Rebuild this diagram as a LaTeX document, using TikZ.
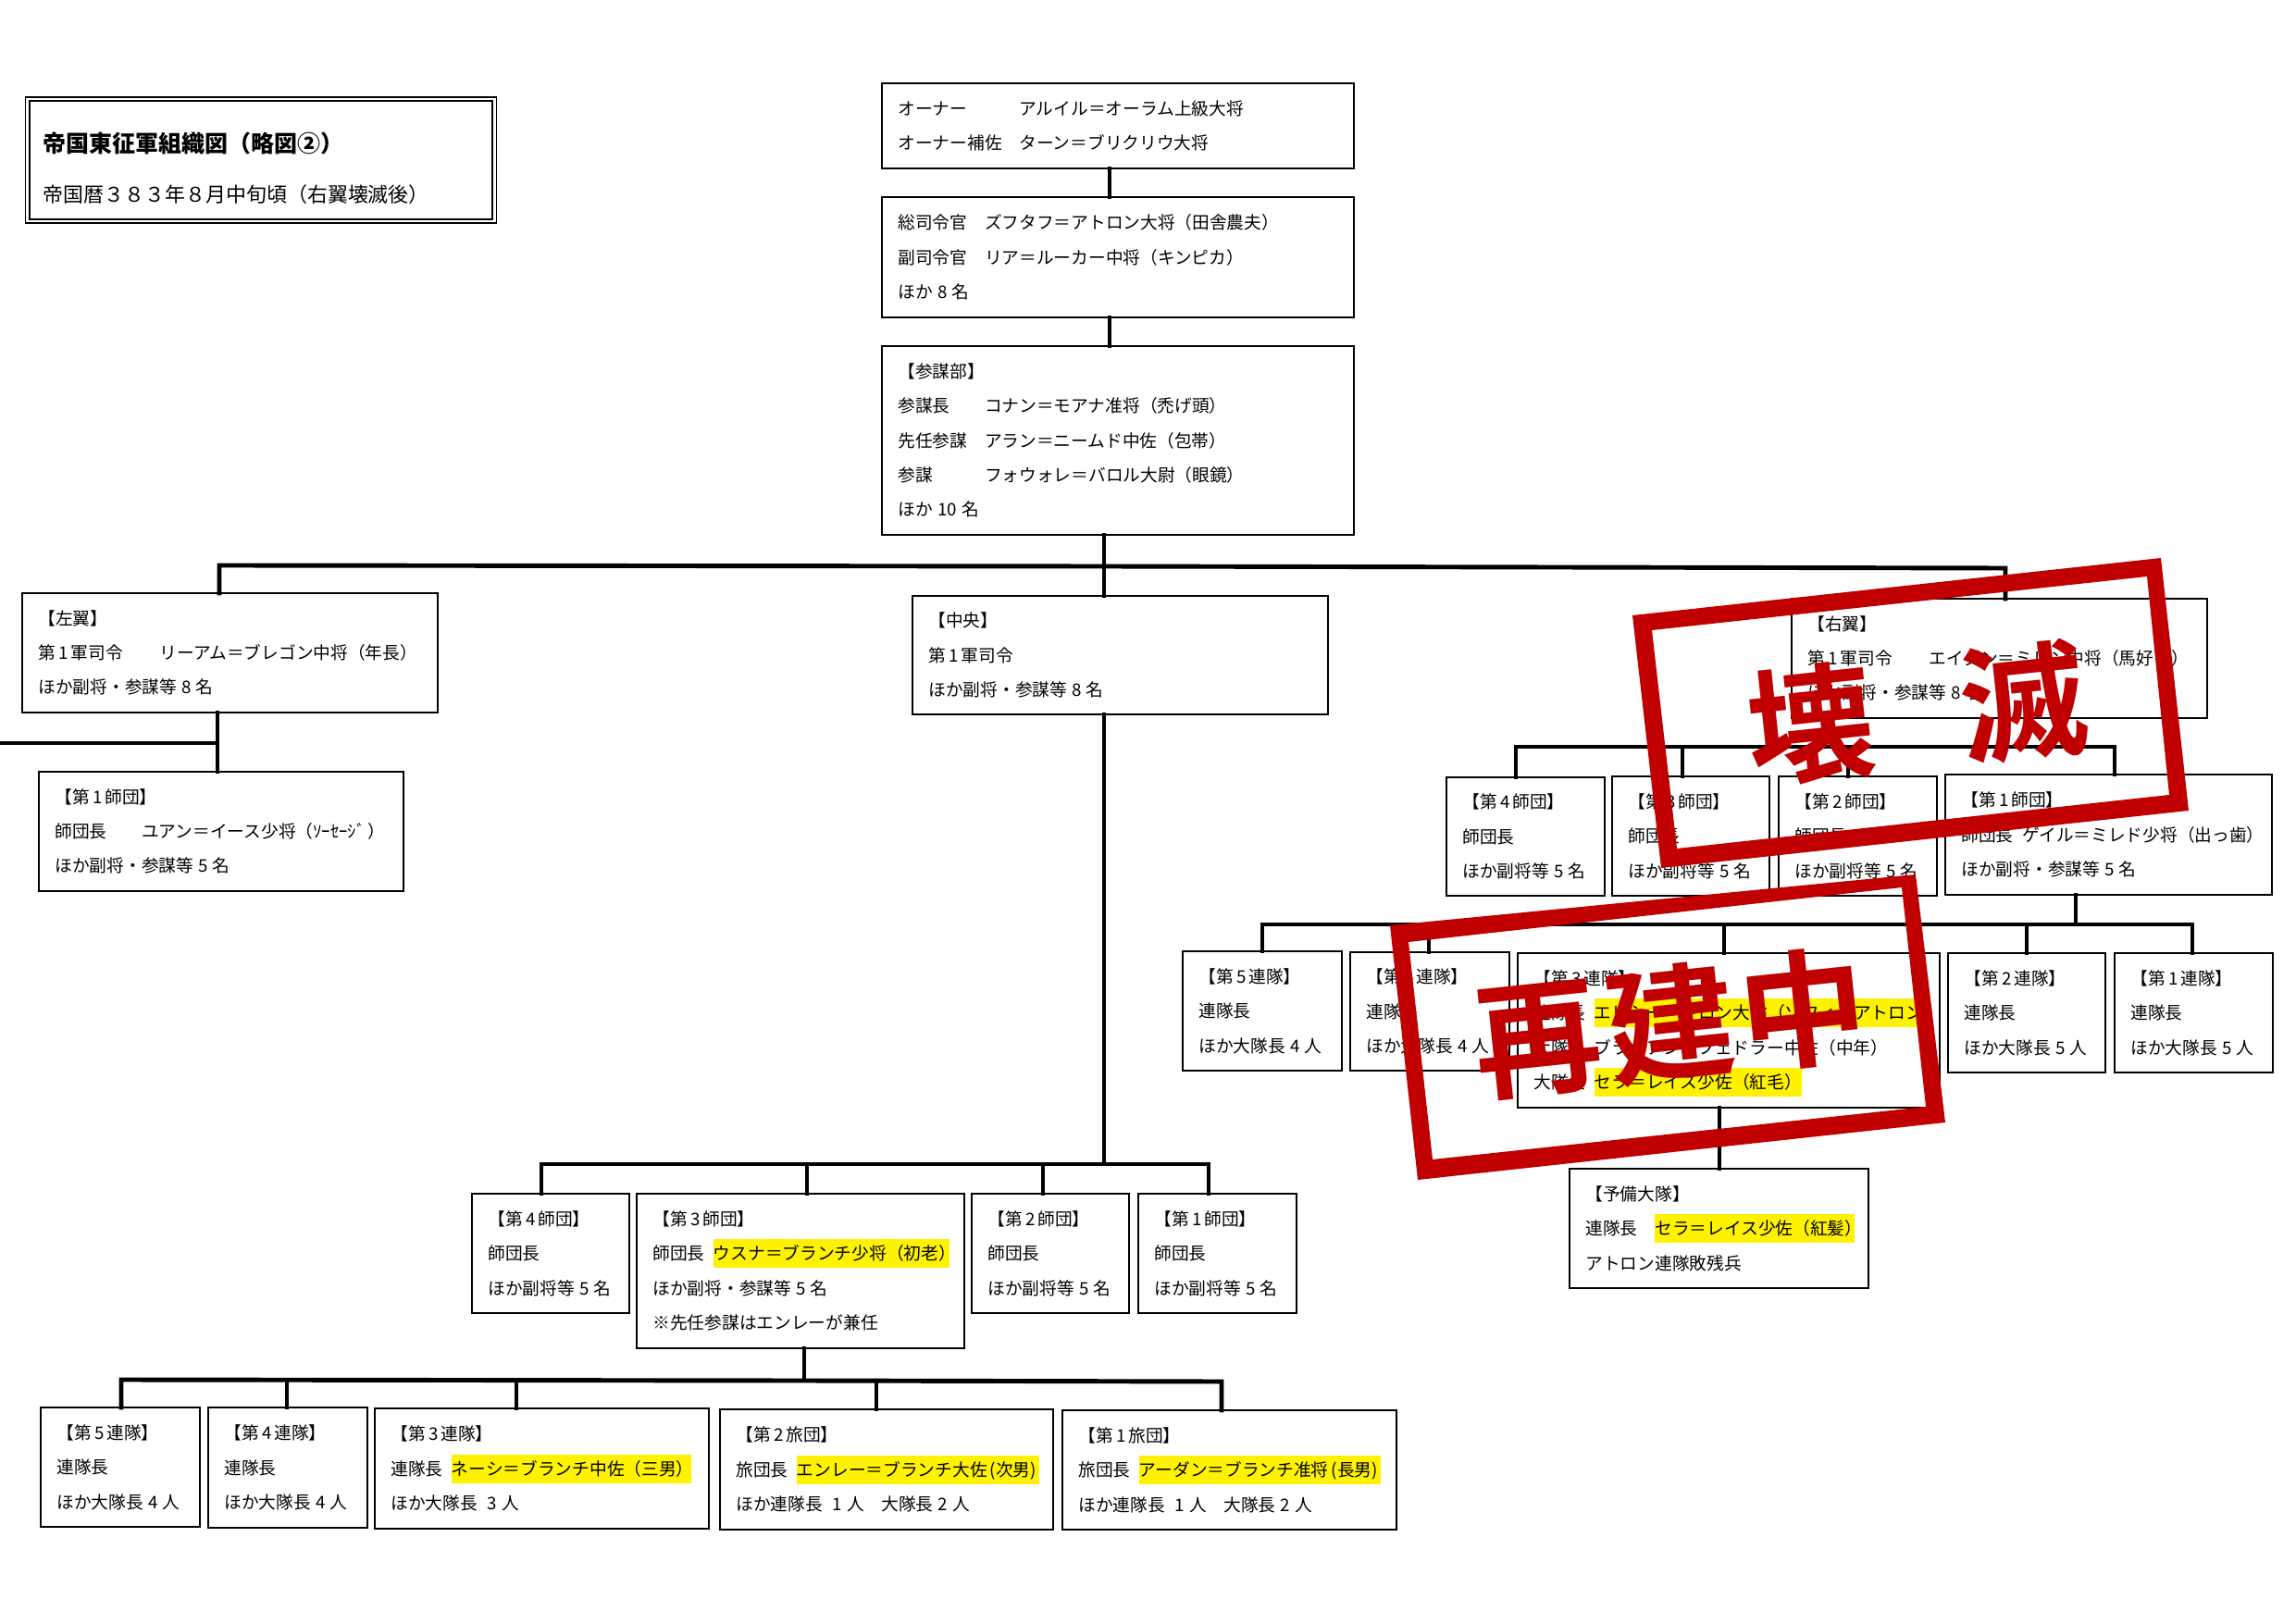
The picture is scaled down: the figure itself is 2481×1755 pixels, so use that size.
\documentclass[tikz,border=0pt]{standalone}
\usepackage{fontspec}
\setmainfont{Noto Sans CJK JP}
\newfontfamily\stampfont{Noto Sans CJK JP Bold}
\definecolor{stampred}{HTML}{C00000}
\setlength{\fboxsep}{0pt}
\def\pxsz{0.01cm}
\providecommand{\orgLineWidth}{0.62pt}
\providecommand{\orgLinkWidth}{1.4pt}
\newcommand{\lab}[2]{\makebox[#1em][l]{#2}}
\newcommand{\hlname}[1]{\smash{\colorbox{yellow}{\rule[-2.4pt]{0pt}{8.8pt}#1}}}
\newcommand{\orgnode}[6]{\node[orgbox, minimum width={(#4-#2)*\pxsz}, minimum height={(#5-#3)*\pxsz}, text width={(#4-#2-35)*\pxsz}] (#1) at ({(#2+#4)/2},{(#3+#5)/2}) {#6};}
\tikzset{
  orgbox/.style={draw=black, line width=\orgLineWidth, inner xsep=0.175cm, inner ysep=0pt, outer sep=0pt, align=left, font=\fontsize{5.32}{10.63}\selectfont},
  titlebox/.style={draw=black, line width=0.5pt, double, double distance=0.8pt, inner xsep=0pt, inner ysep=0pt, outer sep=0pt, align=left},
  link/.style={draw=black, line width=\orgLinkWidth, line cap=rect},
  stampframe/.style={fill=stampred, even odd rule},
  stamptext/.style={text=stampred, rotate=6, inner sep=0pt, font=\stampfont\fontsize{39}{39}\selectfont}
}
\begin{document}
\begin{tikzpicture}[x=\pxsz, y=-\pxsz]
\useasboundingbox (0,0) rectangle (2481,1755);
% Title
\node[titlebox, minimum width=5.04cm, minimum height=1.32cm, text width=4.7cm] (mapTitle) at (282,173)
  {\rule{0pt}{11.2pt}{\fontsize{7.1}{8}\selectfont\bfseries 帝国東征軍組織図（略図②）}\\[3.3pt]
   {\fontsize{6.24}{8}\selectfont 帝国暦３８３年８月中旬頃（右翼壊滅後）}};
% Headquarters
\orgnode{owner}{953}{90}{1463}{182}{\lab{7}{オーナー}アルイル＝オーラム上級大将\\\lab{7}{オーナー補佐}ターン＝ブリクリウ大将}
\orgnode{command}{953}{213}{1463}{343}{\lab{5}{総司令官}ズフタフ＝アトロン大将（田舎農夫）\\\lab{5}{副司令官}リア＝ルーカー中将（キンピカ）\\ほか\;8\;名}
\orgnode{staff}{953}{374}{1463}{578}{【参謀部】\\\lab{5}{参謀長}コナン＝モアナ准将（禿げ頭）\\\lab{5}{先任参謀}アラン＝ニームド中佐（包帯）\\\lab{5}{参謀}フォウォレ＝バロル大尉（眼鏡）\\ほか\;10\;名}
% Wings
\orgnode{leftWing}{24}{641}{473}{770}{【左翼】\\\lab{7}{第\,1\,軍司令}リーアム＝ブレゴン中将（年長）\\ほか副将・参謀等\;8\;名}
\orgnode{centerWing}{986}{644}{1435}{772}{【中央】\\第\,1\,軍司令\\ほか副将・参謀等\;8\;名}
\orgnode{rightWing}{1936}{647}{2385}{776}{【右翼】\\\lab{7}{第\,1\,軍司令}エイグン＝ミレン中将（馬好き）\\ほか副将・参謀等\;8\;名}
% Left wing divisions
\orgnode{leftDivA}{42}{834}{436}{963}{【第\,1\,師団】\\\lab{5}{師団長}ユアン＝イース少将（ｿｰｾｰｼﾞ\,）\\ほか副将・参謀等\;5\;名}
% Right wing divisions
\orgnode{rightDivD}{1563}{840}{1734}{968}{【第\,4\,師団】\\師団長\\ほか副将等\;5\;名}
\orgnode{rightDivC}{1742}{839}{1912}{968}{【第\,3\,師団】\\師団長\\ほか副将等\;5\;名}
\orgnode{rightDivB}{1922}{839}{2093}{968}{【第\,2\,師団】\\師団長\\ほか副将等\;5\;名}
\orgnode{rightDivA}{2102}{837}{2455}{967}{【第\,1\,師団】\\\lab{3.5}{師団長}ゲイル＝ミレド少将（出っ歯）\\ほか副将・参謀等\;5\;名}
% Right wing regiments
\orgnode{rightRegE}{1278}{1028}{1450}{1157}{【第\,5\,連隊】\\連隊長\\ほか大隊長\;4\;人}
\orgnode{rightRegD}{1459}{1029}{1631}{1157}{【第\,4\,連隊】\\連隊長\\ほか大隊長\;4\;人}
\orgnode{rightRegC}{1640}{1030}{2096}{1197}{【第\,3\,連隊】\\\lab{3.5}{連隊長}\hlname{エリシー＝トロン大佐（ソフィ・アトロン}\\\lab{3.5}{大隊長}ブライアン＝フェドラー中佐（中年）\\\lab{3.5}{大隊長}\hlname{セラ＝レイス少佐（紅毛）}}
\orgnode{rightRegB}{2105}{1030}{2275}{1159}{【第\,2\,連隊】\\連隊長\\ほか大隊長\;5\;人}
\orgnode{rightRegA}{2285}{1030}{2456}{1159}{【第\,1\,連隊】\\連隊長\\ほか大隊長\;5\;人}
\orgnode{reserve}{1696}{1263}{2019}{1392}{【予備大隊】\\\lab{4}{連隊長}\hlname{セラ＝レイス少佐（紅髪）\kern-0.43em}\\アトロン連隊敗残兵}
% Center divisions
\orgnode{centerDivD}{510}{1290}{680}{1419}{【第\,4\,師団】\\師団長\\ほか副将等\;5\;名}
\orgnode{centerDivC}{688}{1290}{1042}{1457}{【第\,3\,師団】\\\lab{3.5}{師団長}\hlname{ウスナ＝ブランチ少将（初老）\kern-0.35em}\\ほか副将・参謀等\;5\;名\\※先任参謀はエンレーが兼任}
\orgnode{centerDivB}{1050}{1290}{1220}{1419}{【第\,2\,師団】\\師団長\\ほか副将等\;5\;名}
\orgnode{centerDivA}{1230}{1290}{1401}{1419}{【第\,1\,師団】\\師団長\\ほか副将等\;5\;名}
% Center regiments and brigades
\orgnode{centerRegE}{44}{1521}{216}{1650}{【第\,5\,連隊】\\連隊長\\ほか大隊長\;4\;人}
\orgnode{centerRegD}{225}{1521}{397}{1651}{【第\,4\,連隊】\\連隊長\\ほか大隊長\;4\;人}
\orgnode{centerRegC}{405}{1522}{766}{1652}{【第\,3\,連隊】\\\lab{3.5}{連隊長}\hlname{ネーシ＝ブランチ中佐（三男）\kern-0.15em}\\ほか大隊長\;\;3\;人}
\orgnode{centerBriB}{778}{1523}{1138}{1653}{【第\,2\,旅団】\\\lab{3.5}{旅団長}\hlname{エンレー＝ブランチ大佐\,(次男)\,}\\ほか連隊長\;\;1\;人　大隊長\;2\;人}
\orgnode{centerBriA}{1148}{1524}{1509}{1653}{【第\,1\,旅団】\\\lab{3.5}{旅団長}\hlname{アーダン＝ブランチ准将\,(長男)\,}\\ほか連隊長\;\;1\;人　大隊長\;2\;人}
% Connector junctions
\coordinate (armyBar) at (1193,612);
\coordinate (leftDrop) at (237,611);
\coordinate (rightDrop) at (2167,614);
\coordinate (ownerDrop) at (1199,200);
\coordinate (leftBar) at (235,803);
\coordinate (leftStub) at (0,803);
\coordinate (rightBarD) at (1638,807);
\coordinate (rightBarC) at (1818,807);
\coordinate (rightBarB) at (1997,807);
\coordinate (rightBarA) at (2285,807);
\coordinate (rightMid) at (2167,807);
\coordinate (regBarE) at (1364,999);
\coordinate (regBarD) at (1544,999);
\coordinate (regBarC) at (1863,999);
\coordinate (regBarB) at (2190,999);
\coordinate (regBarA) at (2369,999);
\coordinate (regMid) at (2243,999);
\coordinate (reserveDrop) at (1858,1230);
\coordinate (divBarD) at (585,1258);
\coordinate (divBarC) at (872,1258);
\coordinate (divBarB) at (1127,1258);
\coordinate (divBarA) at (1306,1258);
\coordinate (divMid) at (1193,1258);
\coordinate (lowBarE) at (131,1491);
\coordinate (lowBarD) at (310,1491);
\coordinate (lowBarC) at (558,1492);
\coordinate (lowMid) at (869,1492);
\coordinate (lowBarB) at (947,1493);
\coordinate (lowBarA) at (1320,1493);
% Connectors
\draw[link] (owner.south -| ownerDrop) -- (command.north -| ownerDrop);
\draw[link] (command.south -| ownerDrop) -- (staff.north -| ownerDrop);
\draw[link] (staff.south -| armyBar) -- (centerWing.north -| armyBar);
\draw[link] (leftWing.north -| leftDrop) -- (leftDrop) -- (armyBar) -- (rightDrop) -- (rightWing.north -| rightDrop);
\draw[link] (leftWing.south -| leftBar) -- (leftDivA.north -| leftBar);
\draw[link] (leftStub) -- (leftBar);
\draw[link] (rightWing.south -| rightMid) -- (rightMid);
\draw[link] (rightDivD.north -| rightBarD) -- (rightBarD) -- (rightBarA) -- (rightDivA.north -| rightBarA);
\draw[link] (rightBarC) -- (rightDivC.north -| rightBarC);
\draw[link] (rightBarB) -- (rightDivB.north -| rightBarB);
\draw[link] (rightDivA.south -| regMid) -- (regMid);
\draw[link] (rightRegE.north -| regBarE) -- (regBarE) -- (regBarA) -- (rightRegA.north -| regBarA);
\draw[link] (regBarD) -- (rightRegD.north -| regBarD);
\draw[link] (regBarC) -- (rightRegC.north -| regBarC);
\draw[link] (regBarB) -- (rightRegB.north -| regBarB);
\draw[link] (rightRegC.south -| reserveDrop) -- (reserve.north -| reserveDrop);
\draw[link] (centerWing.south -| armyBar) -- (divMid);
\draw[link] (centerDivD.north -| divBarD) -- (divBarD) -- (divBarA) -- (centerDivA.north -| divBarA);
\draw[link] (divBarC) -- (centerDivC.north -| divBarC);
\draw[link] (divBarB) -- (centerDivB.north -| divBarB);
\draw[link] (centerDivC.south -| lowMid) -- (lowMid);
\draw[link] (centerRegE.north -| lowBarE) -- (lowBarE) -- (lowMid) -- (lowBarA) -- (centerBriA.north -| lowBarA);
\draw[link] (lowBarD) -- (centerRegD.north -| lowBarD);
\draw[link] (lowBarC) -- (centerRegC.north -| lowBarC);
\draw[link] (lowBarB) -- (centerBriB.north -| lowBarB);
% Stamps on top
\fill[stampframe] (1764,665) -- (2335,603) -- (2365,876) -- (1795,938) -- cycle
  (1785,681) -- (2320,623) -- (2344,859) -- (1812,917) -- cycle;
\node[stamptext] (stampLost) at (2071,770) {壊\hspace{0.69em}滅};
\fill[stampframe] (1502,1000) -- (2070,945) -- (2102,1213) -- (1532,1275) -- cycle
  (1522,1018) -- (2055,959) -- (2081,1196) -- (1548,1253) -- cycle;
\node[stamptext] (stampRebuild) at (1805,1106) {再\kern2pt 建\kern2pt 中};
\end{tikzpicture}
\end{document}
